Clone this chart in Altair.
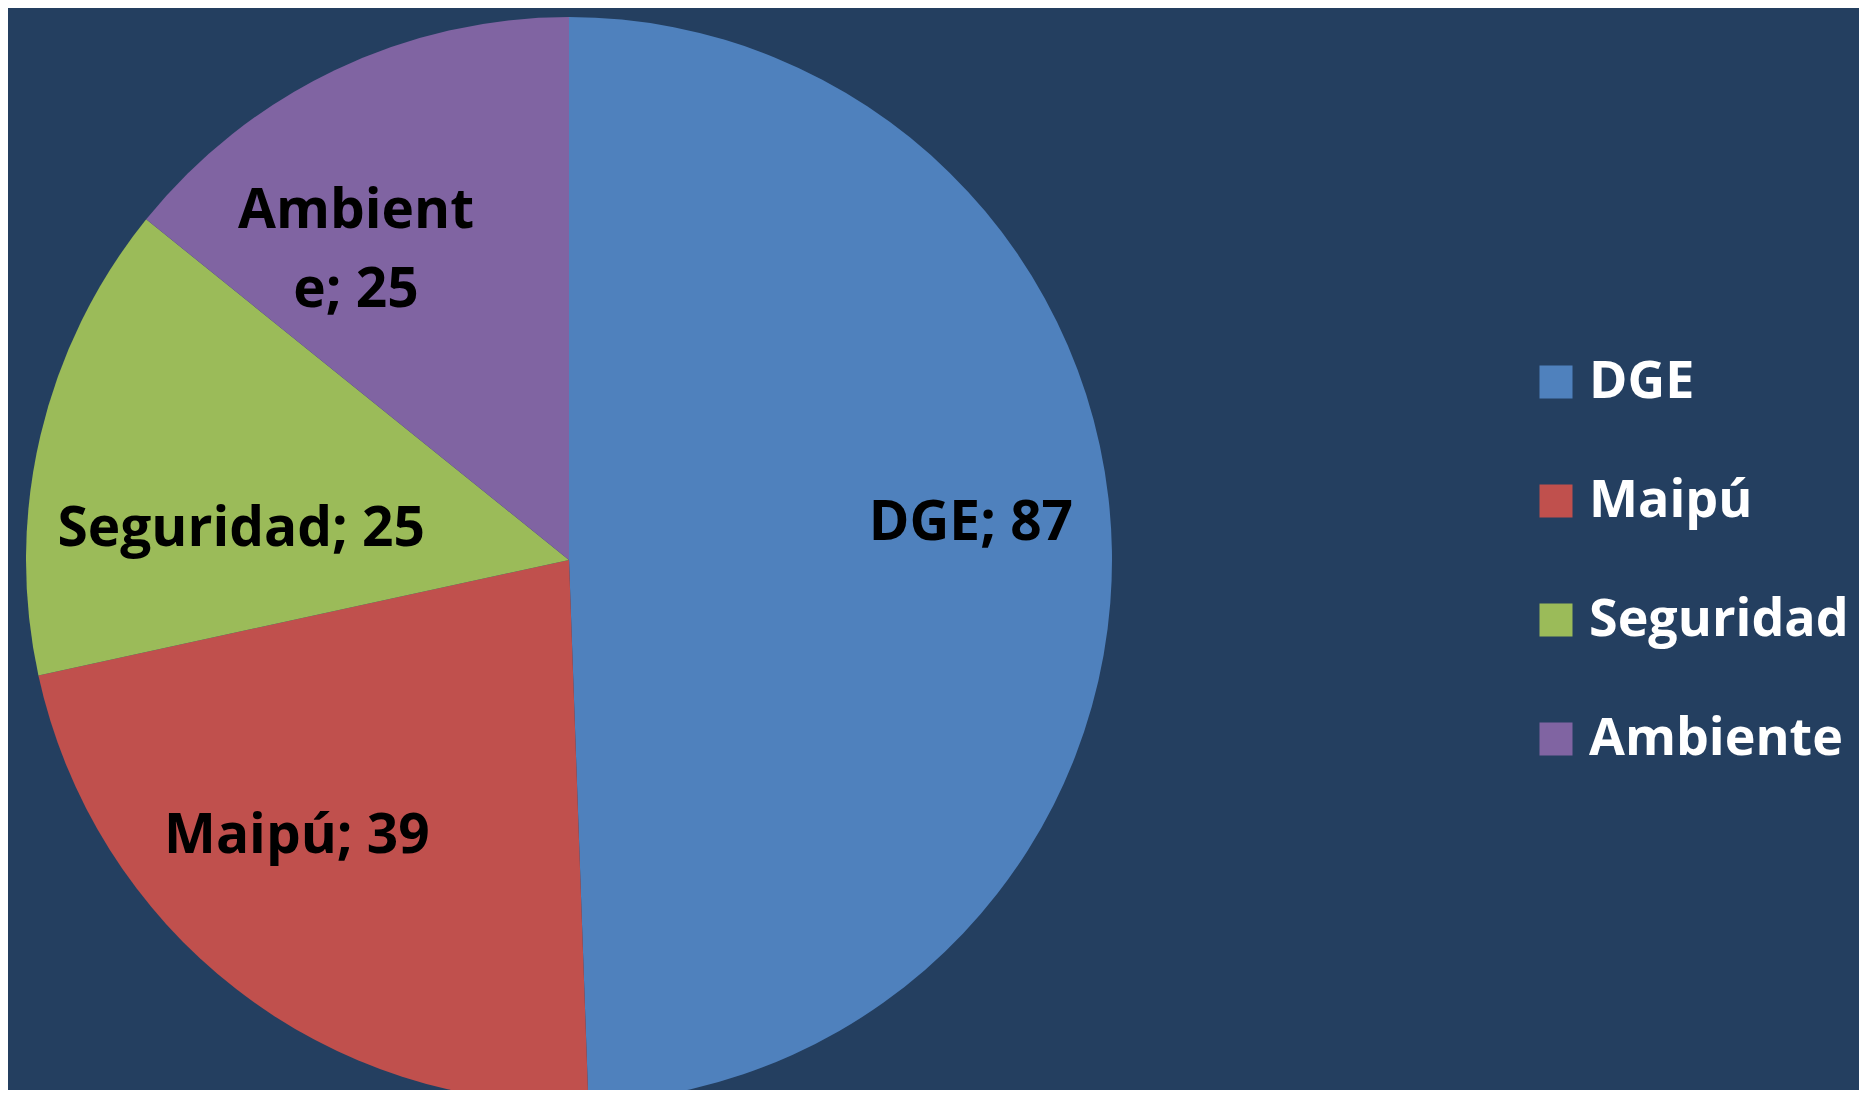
import altair as alt
import pandas as pd

# ---- data ----
categories = ["DGE", "Maipú", "Seguridad", "Ambiente"]
values = [87, 39, 25, 25]
labels = ["DGE; 87", "Maipú; 39", "Seguridad; 25", "Ambient\ne; 25"]
colors = ["#4F81BD", "#C0504D", "#9BBB59", "#8064A2"]

df = pd.DataFrame({
    "cat": categories,
    "value": values,
    "label": labels,
    "idx": list(range(len(categories))),
})

BG = "#243F60"
FONT = "Open Sans"
CX, CY = 561, 552
R = 543
LABEL_R = 380

base = alt.Chart(df)

pie = base.mark_arc(radius=R).encode(
    theta=alt.Theta("value:Q", stack=True),
    order=alt.Order("idx:Q"),
    color=alt.Color(
        "cat:N",
        sort=categories,
        scale=alt.Scale(domain=categories, range=colors),
        legend=alt.Legend(
            title=None,
            orient="none",
            legendX=1522,
            legendY=348,
            symbolType="square",
            symbolSize=1089,
            symbolStrokeWidth=0,
            labelFont=FONT,
            labelFontSize=52,
            labelFontWeight="bold",
            labelColor="white",
            labelOffset=7,
            labelLimit=600,
            rowPadding=67,
            padding=0,
        ),
    ),
    x=alt.value(CX),
    y=alt.value(CY),
)

# per-label nudges (pixels) so labels sit where the reference places them
label_nudge = {
    "DGE": (22, -13),
    "Maipú": (-39, -7),
    "Seguridad": (42, 73),
    "Ambiente": (-49, 11),
}

text_layers = []
for c in categories:
    ddx, ddy = label_nudge[c]
    t = (
        base.transform_window(cum="sum(value)", sort=[alt.SortField("idx")])
        .transform_calculate(mid="datum.cum - datum.value / 2")
        .transform_filter(alt.datum.cat == c)
        .mark_text(
            radius=LABEL_R,
            dx=ddx,
            dy=ddy,
            font=FONT,
            fontSize=55,
            fontWeight="bold",
            color="black",
            align="center",
            baseline="alphabetic",
            lineBreak="\n",
            lineHeight=79,
        )
        .encode(
            theta=alt.Theta("mid:Q", stack=False),
            text="label:N",
            x=alt.value(CX),
            y=alt.value(CY),
        )
    )
    text_layers.append(t)

chart = (
    alt.layer(pie, *text_layers)
    .properties(
        width=1851,
        height=1082,
        background=BG,
        padding=0,
        autosize=alt.AutoSizeParams(type="none"),
    )
    .configure_view(strokeWidth=0)
)

chart.save("out.html", embed_options={"renderer": "svg", "actions": False})
